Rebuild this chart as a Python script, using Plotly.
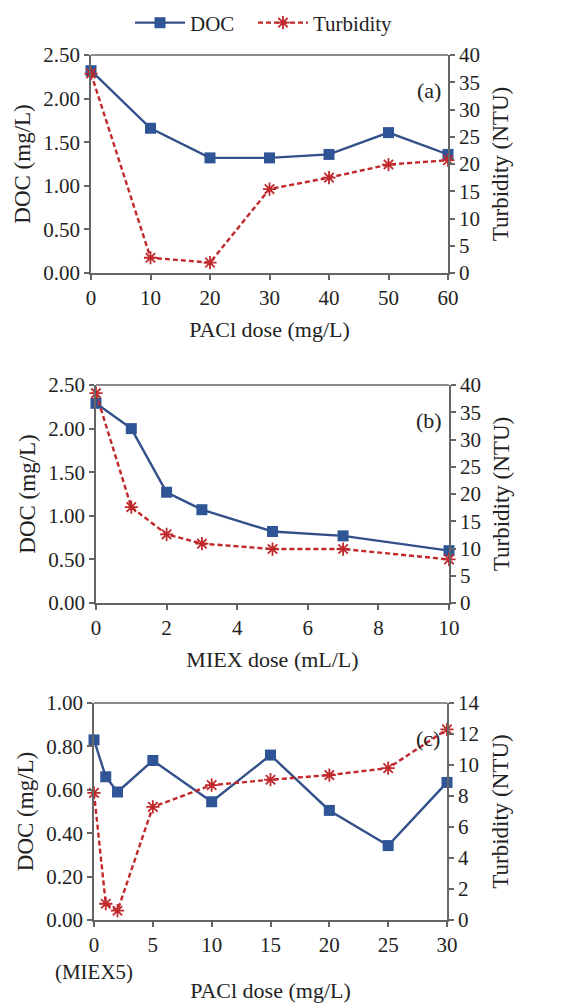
import plotly.graph_objects as go

# ---- data ----
pacl_a = [0, 10, 20, 30, 40, 50, 60]
doc_a = [2.32, 1.66, 1.32, 1.32, 1.36, 1.61, 1.36]
turb_a = [36.6, 2.8, 1.9, 15.4, 17.5, 19.9, 20.7]

miex_b = [0, 1, 2, 3, 5, 7, 10]
doc_b = [2.29, 2.00, 1.27, 1.07, 0.82, 0.77, 0.60]
turb_b = [38.5, 17.6, 12.6, 10.9, 9.9, 9.9, 8.0]

pacl_c = [0, 1, 2, 5, 10, 15, 20, 25, 30]
doc_c = [0.83, 0.66, 0.59, 0.735, 0.545, 0.76, 0.505, 0.343, 0.634]
turb_c = [8.2, 1.05, 0.6, 7.3, 8.7, 9.05, 9.35, 9.8, 12.3]

c_ticks = [0, 5, 10, 15, 20, 25, 30]
c_ticktext = ["0<br>(MIEX5)", "5", "10", "15", "20", "25", "30"]

W, H = 569, 1003
BLUE = "#2F5597"
BLUE_LINE = "#33508a"
RED = "#C0282B"
AX = "#666666"
FONT = "Liberation Serif"
TXT = "#222222"

fig = go.Figure()

panels = [
    dict(x=pacl_a, doc=doc_a, turb=turb_a, xr=[0, 60], xd=10, y1=[0, 2.5], d1=0.5,
         y2=[0, 40], d2=5, px=(91, 448), py=(55, 273), title="PACl dose (mg/L)", lab="(a)", so=13),
    dict(x=miex_b, doc=doc_b, turb=turb_b, xr=[0, 10], xd=2, y1=[0, 2.5], d1=0.5,
         y2=[0, 40], d2=5, px=(96, 449), py=(385, 603), title="MIEX dose (mL/L)", lab="(b)", so=13),
    dict(x=pacl_c, doc=doc_c, turb=turb_c, xr=[0, 30], xd=5, y1=[0, 1.0], d1=0.2,
         y2=[0, 14], d2=2, px=(94, 447), py=(703, 920), title="PACl dose (mg/L)", lab="(c)", so=2),
]

layout = {}
annotations = []
for i, p in enumerate(panels):
    n = i + 1
    xa = "xaxis" if n == 1 else f"xaxis{n}"
    ya1 = 2 * n - 1
    ya2 = 2 * n
    yk1 = "yaxis" if ya1 == 1 else f"yaxis{ya1}"
    yk2 = f"yaxis{ya2}"
    xref = "x" if n == 1 else f"x{n}"
    yref1 = "y" if ya1 == 1 else f"y{ya1}"
    yref2 = f"y{ya2}"
    xdom = [p["px"][0] / W, p["px"][1] / W]
    ydom = [1 - p["py"][1] / H, 1 - p["py"][0] / H]

    fig.add_trace(go.Scatter(
        x=p["x"], y=p["doc"], name="DOC", mode="lines+markers",
        line=dict(color=BLUE_LINE, width=2.4),
        marker=dict(symbol="square", size=11, color=BLUE),
        xaxis=xref, yaxis=yref1, showlegend=(n == 1), legend="legend", cliponaxis=False))
    fig.add_trace(go.Scatter(
        x=p["x"], y=p["turb"], name="Turbidity", mode="lines+markers",
        line=dict(color=RED, width=2.4, dash="5px,3px"),
        marker=dict(symbol="asterisk", size=11, color=RED, line=dict(color=RED, width=1.8)),
        xaxis=xref, yaxis=yref2, showlegend=(n == 1), legend="legend2", cliponaxis=False))

    common = dict(showline=True, linecolor=AX, linewidth=1.5, ticks="outside",
                  ticklen=5, tickcolor=AX, tickwidth=1.5, showgrid=False, zeroline=False,
                  automargin=False,
                  tickfont=dict(family=FONT, size=21, color=TXT))
    xaxis = dict(common, domain=xdom, range=p["xr"], anchor=yref1,
                 title=dict(text=p["title"], font=dict(family=FONT, size=22, color=TXT), standoff=p["so"]))
    if n == 3:
        xaxis.update(tickmode="array", tickvals=c_ticks, ticktext=c_ticktext)
    else:
        xaxis.update(dtick=p["xd"], tick0=0)
    layout[xa] = xaxis
    layout[yk1] = dict(common, domain=ydom, range=p["y1"], dtick=p["d1"], tick0=0,
                       tickformat=".2f", anchor=xref,
                       title=dict(text="DOC (mg/L)", font=dict(family=FONT, size=23, color=TXT), standoff=6))
    layout[yk2] = dict(common, range=p["y2"], dtick=p["d2"], tick0=0, overlaying=yref1,
                       side="right", anchor=xref,
                       title=dict(text="Turbidity (NTU)", font=dict(family=FONT, size=23, color=TXT), standoff=13))
    # top border of the plot box
    fig.add_shape(type="line", xref=f"{xref} domain", yref=f"{yref1} domain",
                  x0=0, x1=1, y0=1, y1=1, line=dict(color=AX, width=1.5))
    annotations.append(dict(text=p["lab"], xref=f"{xref} domain", yref=f"{yref1} domain",
                            x=0.985, y=0.835, xanchor="right", yanchor="middle", showarrow=False,
                            font=dict(family=FONT, size=22, color=TXT)))

leg_common = dict(orientation="h", xanchor="left", y=1 - 23 / H, yanchor="middle",
                  font=dict(family=FONT, size=21, color=TXT), bgcolor="rgba(0,0,0,0)",
                  itemwidth=50)

fig.update_layout(
    width=W, height=H, margin=dict(l=0, r=0, t=0, b=0),
    paper_bgcolor="white", plot_bgcolor="white",
    font=dict(family=FONT, size=21, color=TXT),
    legend=dict(leg_common, x=130 / W),
    legend2=dict(leg_common, x=253 / W),
    annotations=annotations,
    **layout,
)

fig.write_html("out.html")
